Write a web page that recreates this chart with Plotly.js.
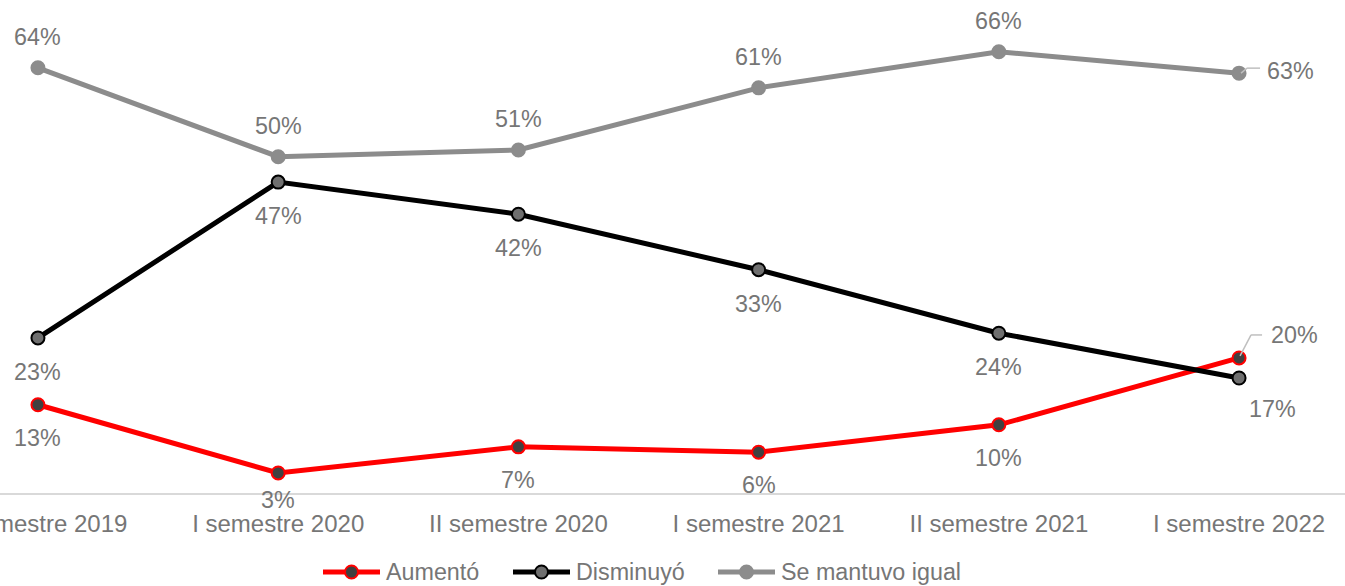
<!DOCTYPE html>
<html>
<head>
<meta charset="utf-8">
<script src="https://cdn.plot.ly/plotly-3.0.1.min.js"></script>
<style>html,body{margin:0;padding:0;background:#fff;}#chart{width:1345px;height:586px;}</style>
</head>
<body>
<div id="chart"></div>
<script>
const categories = ["II semestre 2019", "I semestre 2020", "II semestre 2020", "I semestre 2021", "II semestre 2021", "I semestre 2022"];
const aumento = [0.132, 0.030, 0.069, 0.061, 0.102, 0.202];
const disminuyo = [0.232, 0.465, 0.417, 0.334, 0.239, 0.172];
const igual = [0.636, 0.503, 0.513, 0.606, 0.660, 0.628];
const seriesNames = ["Aumentó", "Disminuyó", "Se mantuvo igual"];

const W = 1345, H = 586, M = {l: 0, r: 0, t: 25, b: 93};
const textColor = "#767676";
const family = "Liberation Sans, Arial, sans-serif";
const labelFont = {family: family, size: 23.3, color: textColor};
const tickFont = {family: family, size: 24, color: textColor};

const styles = [
  {line: "#ff0000", fill: "#404040", mline: "#ff0000"},
  {line: "#000000", fill: "#6f6f6f", mline: "#000000"},
  {line: "#8c8c8c", fill: "#8c8c8c", mline: "#8c8c8c"}
];
const seriesValues = [aumento, disminuyo, igual];

const data = seriesValues.map((y, k) => ({
  type: "scatter", mode: "lines+markers", name: seriesNames[k],
  x: categories, y: y, showlegend: false,
  line: {color: styles[k].line, width: 5},
  marker: {size: 13, color: styles[k].fill, line: {color: styles[k].mline, width: 2}},
  hoverinfo: "skip"
}));

const pct = v => Math.round(v * 100) + "%";
const annotations = [];
const shapes = [];
const last = categories.length - 1;
const leaderColor = "#bfbfbf";

function leader(xcat, yval, pts) {
  for (let i = 0; i < pts.length - 1; i++) {
    shapes.push({type: "line", xref: "x", yref: "y", xsizemode: "pixel", ysizemode: "pixel",
      xanchor: xcat, yanchor: yval, x0: pts[i][0], y0: pts[i][1], x1: pts[i + 1][0], y1: pts[i + 1][1],
      line: {color: leaderColor, width: 1.5}, layer: "above"});
  }
}

igual.forEach((v, i) => {
  if (i === last) {
    annotations.push({x: categories[i], y: v, text: pct(v), showarrow: false, xanchor: "left", xshift: 26, yshift: 2, font: labelFont});
    leader(categories[i], v, [[2, 0], [8, 5], [21, 5]]);
  } else {
    annotations.push({x: categories[i], y: v, text: pct(v), showarrow: false, yshift: 31, font: labelFont});
  }
});
disminuyo.forEach((v, i) => {
  if (i === last) {
    annotations.push({x: categories[i], y: v, text: pct(v), showarrow: false, xshift: 33, yshift: -31, font: labelFont});
  } else {
    annotations.push({x: categories[i], y: v, text: pct(v), showarrow: false, yshift: -34, font: labelFont});
  }
});
aumento.forEach((v, i) => {
  if (i === last) {
    annotations.push({x: categories[i], y: v, text: pct(v), showarrow: false, xanchor: "left", xshift: 30, yshift: 23, font: labelFont});
    leader(categories[i], v, [[1, 2], [12, 23], [23, 23]]);
  } else {
    annotations.push({x: categories[i], y: v, text: pct(v), showarrow: false, yshift: (i === 1 ? -27 : -33), font: labelFont});
  }
});

// custom legend (pixel positions converted to paper coordinates)
const plotH = H - M.t - M.b;
const px2x = px => (px - M.l) / (W - M.l - M.r);
const py2y = py => (H - M.b - py) / plotH;
const legendY = 572;
const legendItems = [
  {x0: 323, x1: 380, text: 384},
  {x0: 513, x1: 570, text: 574},
  {x0: 718, x1: 775, text: 779}
];
legendItems.forEach((it, k) => {
  shapes.push({type: "line", xref: "paper", yref: "paper",
    x0: px2x(it.x0), x1: px2x(it.x1), y0: py2y(legendY), y1: py2y(legendY),
    line: {color: styles[k].line, width: 5}, layer: "above"});
  shapes.push({type: "circle", xref: "paper", yref: "paper", xsizemode: "pixel", ysizemode: "pixel",
    xanchor: px2x((it.x0 + it.x1) / 2), yanchor: py2y(legendY), x0: -6.5, x1: 6.5, y0: -6.5, y1: 6.5,
    fillcolor: styles[k].fill, line: {color: styles[k].mline, width: 2}, layer: "above"});
  annotations.push({xref: "paper", yref: "paper", x: px2x(it.text), y: py2y(legendY),
    xanchor: "left", yanchor: "middle", text: seriesNames[k], showarrow: false, font: labelFont});
});

const layout = {
  width: W, height: H,
  margin: M,
  paper_bgcolor: "#ffffff", plot_bgcolor: "#ffffff",
  font: labelFont,
  showlegend: false,
  xaxis: {type: "category", range: [-0.158, 5.441], showgrid: false, zeroline: false,
    showline: true, linecolor: "#d9d9d9", linewidth: 1.5, ticks: "", tickfont: tickFont,
    ticklabelstandoff: 9, fixedrange: true},
  yaxis: {range: [0, 0.7], visible: false, showgrid: false, zeroline: false, fixedrange: true},
  annotations: annotations,
  shapes: shapes
};

Plotly.newPlot("chart", data, layout, {displayModeBar: false, staticPlot: true});
</script>
</body>
</html>
